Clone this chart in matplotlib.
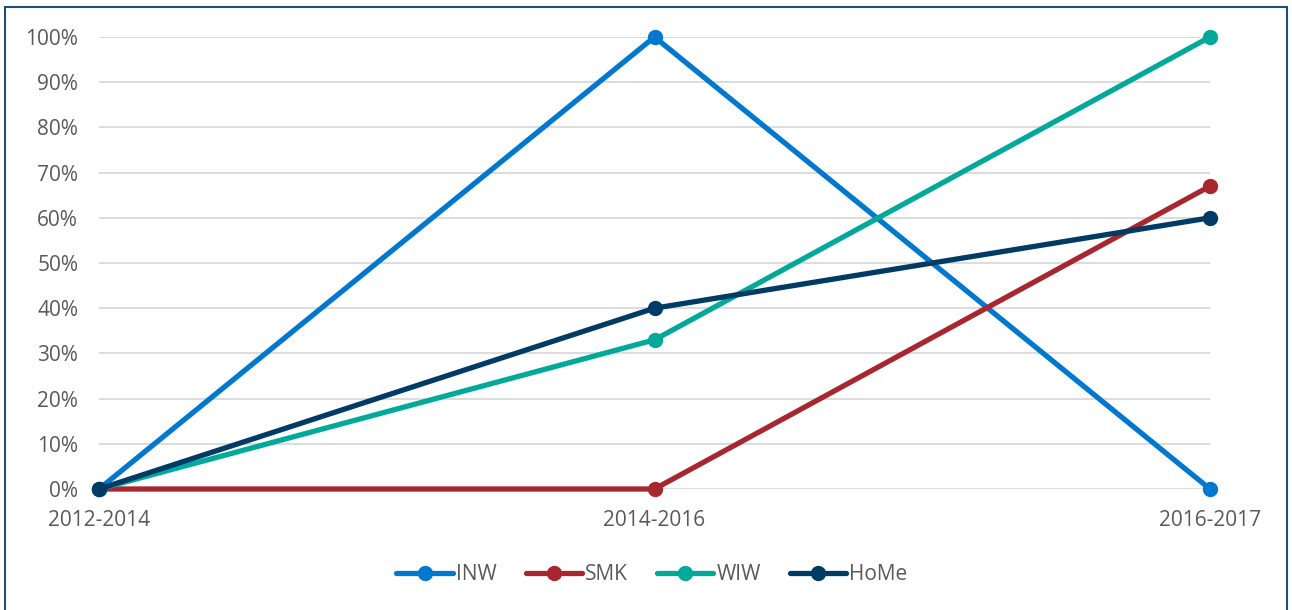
import numpy as np
import matplotlib
matplotlib.use('Agg')
import matplotlib.pyplot as plt
from matplotlib.patches import Rectangle
from matplotlib.ticker import PercentFormatter

periods = ['2012-2014', '2014-2016', '2016-2017']
series_names = ['INW', 'SMK', 'WIW', 'HoMe']
inw = [0.0, 1.00, 0.0]
smk = [0.0, 0.0, 0.67]
wiw = [0.0, 0.33, 1.00]
home = [0.0, 0.40, 0.60]
colors = ['#0078CF', '#A8262F', '#00A99A', '#003B65']

plt.rcParams['font.family'] = ['Open Sans', 'DejaVu Sans']
textcol = '#595959'
fs = 15

fig = plt.figure(figsize=(12.92, 6.10), dpi=100)
ax = fig.add_axes([99/1292, 1-489/610, (1210-99)/1292, (489-37)/610])

x = np.arange(len(periods))
for name, vals, c in zip(series_names, [inw, smk, wiw, home], colors):
    ax.plot(x, vals, color=c, lw=3.8, marker='o', ms=10, label=name,
            clip_on=False, zorder=3, solid_capstyle='round')

ax.set_xlim(0, 2)
ax.set_ylim(0, 1)
ax.set_yticks(np.arange(0, 1.01, 0.1))
ax.yaxis.set_major_formatter(PercentFormatter(1.0, decimals=0))
ax.set_xticks(x)
ax.set_xticklabels(periods)
ax.grid(axis='y', color='#D9D9D9', lw=1.3)
ax.set_axisbelow(True)
for s in ax.spines.values():
    s.set_visible(False)
ax.tick_params(length=0, labelsize=fs, colors=textcol)
ax.tick_params(axis='y', pad=15)
ax.tick_params(axis='x', pad=15)

leg = fig.legend(loc='center', bbox_to_anchor=(652/1292, 1-575/610), ncol=4,
                 frameon=False, fontsize=fs, handlelength=2.7, columnspacing=1.4,
                 handletextpad=0.15)
for t in leg.get_texts():
    t.set_color(textcol)

fig.patches.append(Rectangle((5/1292, -0.02), (1287-5)/1292, 1-7/610+0.02,
                             transform=fig.transFigure, fill=False,
                             edgecolor='#1F4E79', lw=1.5))

plt.savefig('out.png', dpi=100)
